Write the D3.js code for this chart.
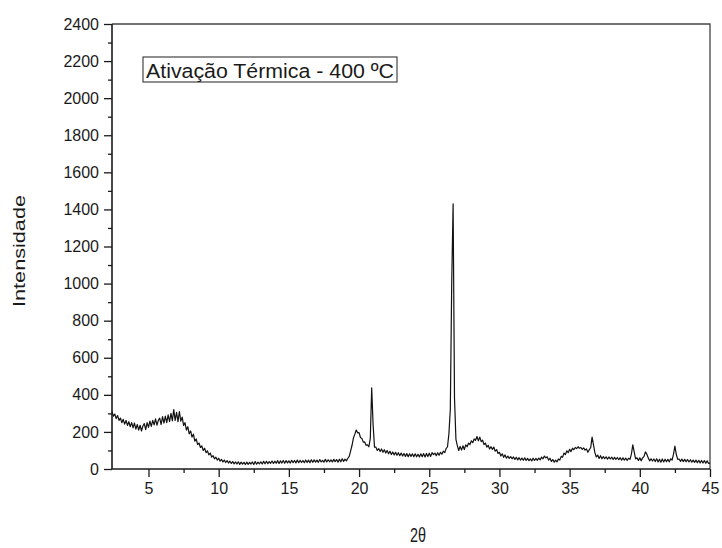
<!DOCTYPE html>
<html>
<head>
<meta charset="utf-8">
<script src="https://cdn.jsdelivr.net/npm/d3@7/dist/d3.min.js"></script>
<style>
  html, body { margin: 0; padding: 0; background: #fff; }
  svg { display: block; font-family: "Liberation Sans", Arial, Helvetica, sans-serif; }
</style>
</head>
<body>
<svg id="chart" width="722" height="548"></svg>
<script>
// ---- data ----
const chartTitle = "Ativação Térmica - 400 ºC";
const xLabel = "2θ";
const yLabel = "Intensidade";
const xTicks = [5, 10, 15, 20, 25, 30, 35, 40, 45];
const xMinorTicks = [7.5, 12.5, 17.5, 22.5, 27.5, 32.5, 37.5, 42.5];
const yTicks = [0, 200, 400, 600, 800, 1000, 1200, 1400, 1600, 1800, 2000, 2200, 2400];
const yMinorTicks = [100, 300, 500, 700, 900, 1100, 1300, 1500, 1700, 1900, 2100, 2300];
const xDomain = [2.4, 45];
const yDomain = [0, 2400];

// scan sampling: 2θ from 2.4° in steps of 0.1°
const scanStart = 2.4;
const scanStep = 0.1;
const intensity = [
  310, 285, 296, 272, 288, 262,                       // 2.4–2.9
  275, 250, 268, 242, 262, 235, 255, 228, 250, 222,   // 3
  248, 215, 240, 210, 236, 205, 232, 245, 212, 250,   // 4
  225, 258, 230, 262, 238, 270, 236, 262, 275, 240,   // 5
  282, 248, 285, 250, 292, 255, 300, 260, 320, 262,   // 6
  305, 255, 310, 258, 280, 235, 250, 210, 228, 190,   // 7
  205, 172, 188, 150, 162, 132, 140, 116, 124, 100,   // 8
  112, 88, 98, 76, 86, 64, 72, 55, 64, 48,            // 9
  58, 42, 52, 38, 48, 35, 45, 32, 42, 30,             // 10
  40, 28, 38, 27, 39, 25, 37, 26, 36, 24,             // 11
  37, 25, 36, 27, 38, 24, 40, 26, 37, 28,             // 12
  39, 27, 41, 28, 42, 29, 40, 31, 43, 30,             // 13
  42, 31, 45, 30, 44, 32, 46, 31, 45, 33,             // 14
  44, 32, 47, 34, 46, 33, 48, 34, 47, 35,             // 15
  46, 34, 49, 35, 48, 34, 50, 36, 49, 37,             // 16
  48, 36, 51, 38, 47, 37, 52, 38, 50, 39,             // 17
  49, 38, 52, 40, 51, 37, 53, 39, 55, 41,             // 18
  53, 44, 58, 68, 98, 128, 168, 188, 210, 195,        // 19
  196, 170, 165, 145, 146, 128, 130, 120, 165, 437,   // 20
  240, 118, 118, 100, 110, 94, 108, 90, 104, 86,      // 21
  100, 82, 96, 78, 92, 76, 90, 74, 88, 72,            // 22
  86, 70, 84, 68, 83, 66, 82, 67, 82, 66,             // 23
  82, 66, 80, 65, 82, 66, 83, 65, 84, 67,             // 24
  85, 68, 88, 78, 86, 72, 88, 74, 90, 80,             // 25
  96, 88, 110, 120, 190, 320, 1000, 1430, 380, 160,   // 26
  126, 100, 122, 102, 125, 105, 130, 120, 140, 132,   // 27
  152, 142, 162, 155, 175, 152, 172, 148, 155, 132,   // 28
  140, 118, 128, 108, 120, 106, 118, 96, 105, 84,     // 29
  90, 70, 82, 63, 76, 58, 70, 57, 67, 55,             // 30
  65, 52, 63, 49, 61, 48, 59, 47, 60, 46,             // 31
  57, 45, 55, 44, 58, 46, 57, 47, 59, 49,             // 32
  64, 55, 70, 60, 66, 48, 58, 41, 51, 37,             // 33
  48, 38, 54, 48, 68, 64, 86, 78, 98, 88,             // 34
  106, 94, 112, 104, 116, 110, 120, 112, 116, 106,    // 35
  114, 102, 108, 90, 104, 115, 172, 130, 88, 65,      // 36
  75, 57, 72, 55, 67, 56, 66, 53, 65, 54,             // 37
  64, 51, 63, 52, 62, 50, 61, 48, 60, 48,             // 38
  59, 46, 58, 52, 80, 130, 92, 55, 60, 46,            // 39
  60, 44, 60, 68, 92, 80, 60, 44, 55, 43,             // 40
  54, 40, 55, 38, 53, 37, 54, 38, 53, 39,             // 41
  52, 39, 55, 48, 80, 124, 78, 52, 54, 41,            // 42
  53, 40, 52, 39, 51, 38, 50, 37, 48, 36,             // 43
  48, 34, 47, 33, 46, 32, 45, 31, 44, 30,             // 44
  32                                                  // 45.0
];
const twoTheta = intensity.map((_, i) => +(scanStart + i * scanStep).toFixed(1));

// ---- layout ----
const svg = d3.select("#chart");
const plot = { left: 112, right: 710, top: 24, bottom: 469 };
const ink = "#1a1a1a";

const x = d3.scaleLinear().domain(xDomain).range([plot.left, plot.right]);
const y = d3.scaleLinear().domain(yDomain).range([plot.bottom, plot.top]);

// frame (top and right)
svg.append("path")
  .attr("d", `M${plot.left},${plot.top}H${plot.right}V${plot.bottom}`)
  .attr("fill", "none").attr("stroke", "#444").attr("stroke-width", 1.3);

// data line
const line = d3.line().x((d, i) => x(twoTheta[i])).y(d => y(d));
svg.append("path")
  .datum(intensity)
  .attr("d", line)
  .attr("fill", "none")
  .attr("stroke", "#111")
  .attr("stroke-width", 1.2)
  .attr("stroke-linejoin", "round");

// bottom axis
const xAxis = d3.axisBottom(x).tickValues(xTicks).tickSize(8).tickPadding(6).tickFormat(d3.format("d"));
const gx = svg.append("g").attr("transform", `translate(0,${plot.bottom})`).call(xAxis);
const xMinor = d3.axisBottom(x).tickValues(xMinorTicks).tickSize(4).tickFormat("");
const gxm = svg.append("g").attr("transform", `translate(0,${plot.bottom})`).call(xMinor);
gxm.select(".domain").remove();

// left axis
const yAxis = d3.axisLeft(y).tickValues(yTicks).tickSize(8).tickPadding(5).tickFormat(d3.format("d"));
const gy = svg.append("g").attr("transform", `translate(${plot.left},0)`).call(yAxis);
const yMinor = d3.axisLeft(y).tickValues(yMinorTicks).tickSize(4).tickFormat("");
const gym = svg.append("g").attr("transform", `translate(${plot.left},0)`).call(yMinor);
gym.select(".domain").remove();

[gx, gxm, gy, gym].forEach(g => {
  g.selectAll("path.domain").attr("stroke", ink).attr("stroke-width", 1.6);
  g.selectAll(".tick line").attr("stroke", ink).attr("stroke-width", 1.3);
  g.selectAll(".tick text").attr("fill", ink).attr("font-size", 16)
    .attr("font-family", "'Liberation Sans', Arial, sans-serif");
});
gx.selectAll(".domain").attr("d", `M${plot.left},0H${plot.right}`);
gy.selectAll(".domain").attr("d", `M0,${plot.bottom}V${plot.top}`);

// axis titles
svg.append("text")
  .attr("transform", `translate(25,251) rotate(-90)`)
  .attr("text-anchor", "middle")
  .attr("font-size", 17)
  .attr("fill", ink)
  .attr("textLength", 112)
  .attr("lengthAdjust", "spacingAndGlyphs")
  .text(yLabel);

svg.append("text")
  .attr("x", 410).attr("y", 542)
  .attr("font-size", 20)
  .attr("fill", ink)
  .attr("textLength", 16)
  .attr("lengthAdjust", "spacingAndGlyphs")
  .text(xLabel);

// title box
svg.append("rect")
  .attr("x", 143).attr("y", 57).attr("width", 254).attr("height", 25)
  .attr("fill", "#fff").attr("stroke", "#333").attr("stroke-width", 1.1);
svg.append("text")
  .attr("x", 146).attr("y", 78)
  .attr("font-size", 20.5)
  .attr("fill", ink)
  .attr("textLength", 248)
  .attr("lengthAdjust", "spacingAndGlyphs")
  .text(chartTitle);
</script>
</body>
</html>
